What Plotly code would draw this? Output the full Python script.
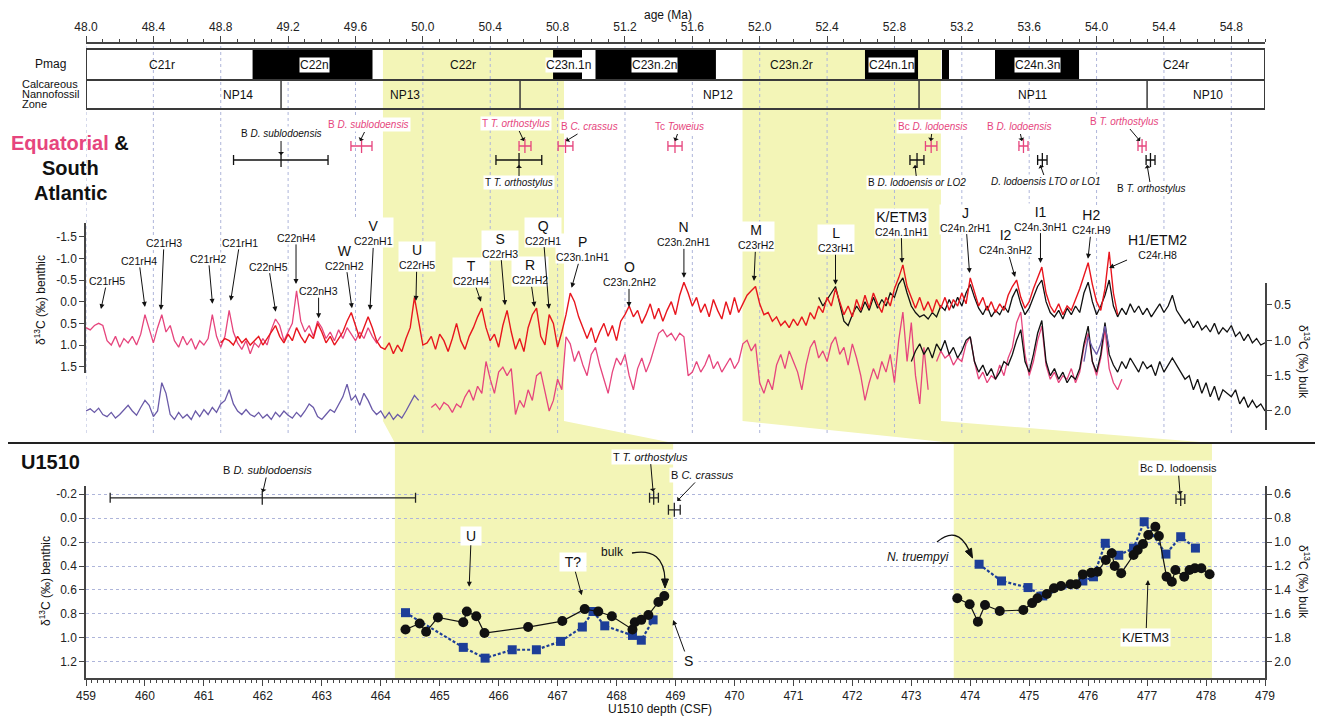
import plotly.graph_objects as go

# ---------------------------------------------------------------- canvas
# the page body has an 8 px default margin: the figure is sized/offset so that
# positions given below are positions in the 1323x721 window
PAGE_W, PAGE_H = 1323, 721
OFF = 8
FIG_W, FIG_H = PAGE_W - OFF, PAGE_H - OFF
PX_L, PX_R = 86, 1265

AGE_RANGE = [48.0, 55.0]
DEPTH_RANGE = [459.0, 479.0]

PINK = "#e6457d"
RED = "#e8161e"
PURPLE = "#6a5aa8"
BLUE = "#1d3e98"
YELLOW = "#f3f5b7"
GRID = "#aeb5da"
NARROW = "Liberation Sans Narrow, Arial Narrow, Liberation Sans, sans-serif"
SANS = "Liberation Sans, Arial, sans-serif"

# ---------------------------------------------------------------- data: top panel
AGE_MAJOR_TICKS = [48.0, 48.4, 48.8, 49.2, 49.6, 50.0, 50.4, 50.8, 51.2, 51.6,
                   52.0, 52.4, 52.8, 53.2, 53.6, 54.0, 54.4, 54.8]
BENTHIC_TICKS = [-1.5, -1.0, -0.5, 0.0, 0.5, 1.0, 1.5]
BULK_TICKS = [0.5, 1.0, 1.5, 2.0]

STEP = 0.025
# Equatorial benthic (pink), start 48.00 Ma
PINK_BEN_START = 48.0
PINK_BEN = [0.60, 0.65, 0.55, 0.50, 0.55, 0.90, 1.00, 0.80,
            1.05, 0.85, 0.95, 0.80, 1.00, 0.75, 0.30, 0.65,
            0.95, 0.60, 0.30, 0.70, 0.55, 0.90, 1.05, 0.80,
            1.00, 0.85, 1.10, 0.90, 1.00, 0.85, 0.30, 0.80,
            1.05, 0.80, 0.20, 0.70, 0.95, 1.10, 0.90, 1.20,
            0.95, 1.05, 0.85, 1.00, 0.65, 0.40, 0.55, 0.90,
            0.70, 0.50, -0.25, 0.45, 0.70, 0.55, 0.80, 0.45,
            0.60, 0.85, 0.70, 0.90, 0.65, 0.85, 0.60, 0.75,
            0.90, 0.70, 0.85, 0.60, 0.80, 0.95, 0.80]
# Benthic (red), start 48.80 Ma
RED_BEN_START = 48.8
RED_BEN = [0.95, 0.85, 0.90, 1.00, 0.80, 0.95, 0.85, 1.00,
           0.90, 0.80, 1.00, 0.85, 0.70, 0.55, 0.80, 0.95,
           0.75, 0.90, 0.60, 0.80, 0.95, 0.75, 0.85, 0.50,
           0.70, 0.95, 0.80, 1.00, 0.85, 0.70, 0.45, 0.25,
           0.55, 0.85, 0.60, 0.35, 0.60, 0.90, 1.05, 1.10,
           0.95, 1.20, 1.00, 1.15, 0.85, 0.60, -0.10, 0.50,
           1.00, 0.95, 0.80, 1.10, 0.75, 0.90, 1.15, 0.85,
           0.50, 0.90, 1.10, 0.80, 0.60, 0.35, 0.15, 0.60,
           0.90, 0.75, 1.05, 0.55, 0.20, 0.70, 1.10, 0.85,
           1.15, 0.60, 0.30, 0.15, 0.80, 1.00, 0.30, 0.50,
           1.05, 0.70, 0.30, -0.20, 0.00, 0.35, 0.60, 0.85,
           0.60, 0.95, 0.70, 0.50, 0.80, 0.55, 0.90, 0.45,
           0.30, 0.10, 0.35, 0.20, 0.50, 0.30, 0.05, 0.40,
           0.15, 0.45, 0.20, 0.00, 0.30, -0.15, -0.45, -0.20,
           0.10, -0.10, 0.25, 0.05, 0.35, -0.05, 0.20, 0.40,
           0.00, 0.30, -0.10, 0.25, 0.05, -0.15, -0.25, -0.35,
           0.05, 0.30, 0.25, 0.45, 0.35, 0.55, 0.45, 0.60,
           0.40, 0.55, 0.35, 0.55, 0.25, 0.40, 0.10, 0.25,
           -0.10, 0.10, -0.30, 0.00, 0.30, 0.10, 0.35, -0.05,
           0.20, -0.15, 0.15, -0.20, 0.05, 0.25, -0.10, 0.10,
           -0.30, -0.55, -0.85, -0.35, -0.10, 0.15, -0.10, 0.20,
           0.00, 0.25, -0.05, 0.15, -0.10, 0.20, -0.05, 0.10,
           -0.20, 0.05, -0.55, -0.20, 0.10, -0.10, 0.20, 0.00,
           0.25, 0.05, 0.20, -0.15, -0.35, -0.50, -0.10, 0.15,
           0.00, -0.30, -0.55, -0.80, -0.20, 0.10, 0.25, 0.05,
           0.30, 0.10, 0.20, -0.05, -0.30, -0.60, -0.90, -0.40,
           0.00, 0.20, -0.30, -1.15, -0.20, 0.30]
# South Atlantic benthic (black), start 52.35 Ma
BLACK_BEN_START = 52.35
BLACK_BEN = [-0.10, 0.10, -0.05, -0.20, -0.35, 0.05, 0.45, 0.55,
             0.30, 0.10, 0.25, 0.00, 0.20, -0.10, 0.15, -0.05,
             0.10, -0.20, -0.10, -0.40, -0.55, -0.20, 0.10, 0.25,
             0.35, 0.30, 0.40, 0.25, 0.35, 0.10, 0.20, -0.05,
             0.15, -0.10, 0.10, -0.20, -0.40, -0.10, 0.15, 0.30,
             0.10, 0.35, 0.20, 0.30, 0.10, 0.25, -0.10, -0.30,
             0.05, 0.30, 0.15, -0.10, -0.35, -0.50, 0.00, 0.25,
             0.35, 0.20, 0.40, 0.15, 0.30, 0.10, 0.25, -0.20,
             -0.45, 0.00, 0.30, 0.10, -0.15, -0.50, 0.10, 0.35,
             0.15, 0.30, 0.05, 0.25, 0.10, 0.30, 0.15, 0.35,
             0.20, 0.05, 0.25, 0.10, -0.15, 0.20, 0.35, 0.50,
             0.40, 0.60, 0.45, 0.65, 0.55, 0.70, 0.50, 0.75,
             0.60, 0.70, 0.55, 0.80, 0.70, 0.90, 0.75, 0.95,
             0.85, 1.00, 0.95]
# bulk records
PURPLE_BULK_START = 48.0
PURPLE_BULK = [2.00, 1.97, 2.02, 1.96, 2.05, 2.08, 2.02, 2.10,
               2.05, 1.98, 1.92, 2.00, 2.06, 1.95, 1.85, 1.92,
               2.08, 2.00, 1.60, 1.75, 2.05, 2.12, 2.02, 2.10,
               2.05, 2.12, 2.00, 2.08, 1.98, 2.05, 1.95, 2.02,
               1.90, 1.85, 1.70, 1.90, 2.00, 2.05, 1.98, 2.05,
               2.08, 2.02, 2.10, 2.05, 2.12, 2.02, 2.08, 2.00,
               2.06, 2.10, 2.02, 2.08, 2.00, 1.90, 1.95, 2.08,
               2.12, 2.05, 1.98, 2.02, 1.90, 1.80, 1.62, 1.85,
               1.78, 1.92, 1.75, 1.85, 1.98, 2.05, 2.00, 2.10,
               2.02, 2.12, 2.05, 2.10, 2.00, 1.88, 1.78, 1.85]
PURPLE_BULK2_START = 53.925
PURPLE_BULK2 = [1.30, 0.95, 1.10, 1.20, 1.05, 0.80, 1.10]
PINK_BULK_START = 50.05
PINK_BULK = [1.95, 1.90, 1.98, 1.88, 1.92, 2.02, 1.90, 1.95,
             1.80, 1.70, 1.85, 1.65, 1.75, 1.30, 1.55, 1.75,
             1.45, 1.38, 1.50, 1.40, 2.05, 1.85, 1.95, 1.70,
             1.85, 1.50, 1.45, 1.75, 2.00, 1.85, 1.55, 1.70,
             0.95, 1.05, 1.30, 1.15, 1.35, 1.50, 1.20, 1.10,
             1.35, 1.55, 1.75, 1.45, 1.25, 1.35, 1.20, 1.50,
             1.70, 1.40, 1.25, 1.45, 1.30, 1.10, 0.90, 0.85,
             0.95, 0.90, 1.00, 0.90, 0.95, 1.50, 1.45, 1.30,
             1.45, 1.35, 1.20, 1.40, 1.30, 1.45, 1.35, 1.25,
             1.40, 1.30, 1.05, 1.00, 1.15, 1.05, 1.60, 1.75,
             1.55, 1.70, 1.35, 1.20, 1.40, 1.15, 1.30, 1.45,
             1.70, 1.35, 1.10, 1.00, 1.25, 1.15, 1.30, 1.05,
             0.95, 1.20, 1.10, 1.35, 1.05, 1.25, 1.50, 1.85,
             1.60, 1.40, 1.55, 1.30, 1.45, 1.20, 1.60, 1.00,
             0.60, 1.30, 0.75, 1.50, 1.90, 1.10, 1.70]
PINK_BULK2_START = 53.05
PINK_BULK2 = [1.30, 1.15, 1.25, 1.20, 1.35, 1.25, 1.30, 1.05,
              0.95, 1.30, 1.55, 1.45, 1.60, 1.50, 1.55, 1.35,
              1.50, 1.25, 1.10, 0.75, 0.60, 1.20, 1.50, 1.30,
              1.00, 0.80, 1.35, 1.55, 1.45, 1.60, 1.50, 1.55,
              1.40, 1.60, 1.45, 1.10, 0.90, 1.30, 1.50, 1.25,
              0.85, 1.40, 1.60, 1.70, 1.55]
BLACK_BULK_START = 52.9
BLACK_BULK = [1.30, 1.15, 1.05, 1.20, 1.10, 1.25, 1.05, 1.15,
              1.00, 1.20, 1.10, 1.25, 1.15, 1.00, 0.95, 1.30,
              1.45, 1.35, 1.50, 1.40, 1.55, 1.45, 1.30, 1.35,
              1.20, 1.00, 0.85, 1.30, 1.45, 1.20, 0.90, 0.72,
              1.30, 1.50, 1.40, 1.55, 1.45, 1.60, 1.50, 1.55,
              1.40, 1.05, 0.80, 1.30, 1.45, 1.20, 0.75, 1.20,
              1.35, 1.45, 1.30, 1.40, 1.25, 1.35, 1.45, 1.30,
              1.40, 1.35, 1.50, 1.30, 1.45, 1.35, 1.25, 1.35,
              1.45, 1.55, 1.50, 1.70, 1.55, 1.75, 1.60, 1.80,
              1.65, 1.85, 1.70, 1.75, 1.80, 1.70, 1.90, 1.80,
              1.95, 1.85, 1.95, 1.90, 2.00]

# magnetostratigraphy / nannofossil zones (Ma)
PMAG_NORMAL = [(48.989, 49.701), (50.773, 50.945), (51.025, 51.740),
               (52.625, 52.940), (53.082, 53.124), (53.397, 53.896)]
PMAG_NAMES = ["C21r", "C22n", "C22r", "C23n.1n", "C23n.2n", "C23n.2r", "C24n.1n", "C24n.3n", "C24r"]
PMAG_NAME_AGES = [48.45, 49.354, 50.238, 50.862, 51.378, 52.186, 52.785, 53.652, 54.47]
PMAG_NAME_BOXED = [False, True, False, True, True, False, True, True, False]
NANNO_BOUNDS = [49.158, 50.577, 52.946, 54.300]
NANNO_NAMES = ["NP14", "NP13", "NP12", "NP11", "NP10"]
NANNO_NAME_AGES = [48.90, 49.896, 51.755, 53.617, 54.659]

HIGHLIGHT_AGES = [(49.763, 50.838), (51.898, 53.076)]
HIGHLIGHT_DEPTHS = [(464.24, 468.96), (473.72, 478.10)]

# biostratigraphic events (age ranges, Ma)
EQ_EVENTS = ["B <i>D. sublodoensis</i>", "T <i>T. orthostylus</i>", "B <i>C. crassus</i>",
             "Tc <i>Toweius</i>", "Bc <i>D. lodoensis</i>", "B <i>D. lodoensis</i>", "B <i>T. orthostylus</i>"]
EQ_LO = [49.573, 50.571, 50.803, 51.455, 52.984, 53.539, 54.246]
EQ_HI = [49.698, 50.642, 50.891, 51.539, 53.052, 53.593, 54.294]
EQ_MID = [49.636, 50.606, 50.847, 51.497, 53.018, 53.566, 54.270]
SA_EVENTS = ["B <i>D. sublodoensis</i>", "T <i>T. orthostylus</i>", "B <i>D. lodoensis or LO2</i>",
             "<i>D. lodoensis LTO or LO1</i>", "B <i>T. orthostylus</i>"]
SA_LO = [48.876, 50.434, 52.892, 53.650, 54.294]
SA_HI = [49.437, 50.706, 52.975, 53.706, 54.347]
SA_MID = [49.158, 50.571, 52.934, 53.678, 54.320]

# named carbon-isotope events (peak age, benthic value at arrow tip)
PEAK_LETTERS = ["", "", "", "", "", "", "", "", "W", "V", "U", "T", "S", "R", "Q", "P", "O",
                "N", "M", "L", "K/ETM3", "J", "I2", "I1", "H2", "H1/ETM2"]
PEAK_CODES = ["C21rH5", "C21rH4", "C21rH3", "C21rH2", "C21rH1", "C22nH5", "C22nH4", "C22nH3",
              "C22nH2", "C22nH1", "C22rH5", "C22rH4", "C22rH3", "C22rH2", "C22rH1", "C23n.1nH1",
              "C23n.2nH2", "C23n.2nH1", "C23rH2", "C23rH1", "C24n.1nH1", "C24n.2rH1", "C24n.3nH2",
              "C24n.3nH1", "C24r.H9", "C24r.H8"]
PEAK_AGES = [48.089, 48.350, 48.445, 48.751, 48.859, 49.126, 49.247, 49.381, 49.579, 49.686,
             49.959, 50.345, 50.488, 50.663, 50.749, 50.883, 51.224, 51.550, 51.966, 52.450,
             52.845, 53.246, 53.516, 53.667, 53.949, 54.074]
PEAK_VALUES = [0.17, 0.12, 0.19, 0.05, -0.02, 0.23, -0.41, 0.38, 0.15, 0.19,
               -0.02, 0.00, 0.08, 0.12, 0.17, -0.32, 0.12, -0.55, -0.48, -0.39,
               -0.89, -0.66, -0.57, -0.89, -0.99, -0.78]

# ---------------------------------------------------------------- data: U1510 panel
DEPTH_TICKS = list(range(459, 480))
U_BEN_TICKS = [-0.2, 0.0, 0.2, 0.4, 0.6, 0.8, 1.0, 1.2]
U_BULK_TICKS = [0.6, 0.8, 1.0, 1.2, 1.4, 1.6, 1.8, 2.0]

BEN_DEPTH_1 = [464.42, 465.40, 465.77, 466.23, 466.64, 467.05, 467.42, 467.60, 467.80, 468.27, 468.42, 468.62]
BEN_VAL_1 = [0.79, 1.08, 1.17, 1.10, 1.10, 1.03, 0.91, 0.78, 0.90, 0.98, 1.02, 0.85]
BEN_DEPTH_2 = [474.15, 474.53, 474.98, 475.23, 475.91, 476.09, 476.29, 476.52, 476.77, 476.95, 477.32, 477.57, 477.82]
BEN_VAL_2 = [0.385, 0.525, 0.58, 0.65, 0.525, 0.49, 0.21, 0.31, 0.25, 0.03, 0.30, 0.155, 0.25]

BULK_DEPTH_1 = [464.42, 464.66, 464.77, 464.97, 465.40, 465.46, 465.62, 465.76, 466.50, 467.08,
                467.46, 467.69, 467.92, 468.27, 468.31, 468.42, 468.54, 468.71, 468.81]
BULK_VAL_1 = [1.73, 1.68, 1.75, 1.63, 1.67, 1.58, 1.62, 1.76, 1.71, 1.66,
              1.56, 1.58, 1.62, 1.73, 1.67, 1.65, 1.61, 1.50, 1.45]
BULK_DEPTH_2 = [473.78, 473.99, 474.13, 474.25, 474.50, 474.90, 475.05, 475.14, 475.30, 475.42,
                475.54, 475.70, 475.80, 475.91, 476.05, 476.16, 476.30, 476.40, 476.45, 476.56,
                476.77, 476.84, 476.93, 477.02, 477.14, 477.20, 477.33, 477.42, 477.48, 477.63,
                477.72, 477.81, 477.92, 478.06]
BULK_VAL_2 = [1.47, 1.52, 1.665, 1.526, 1.576, 1.568, 1.51, 1.47, 1.434, 1.386,
              1.367, 1.353, 1.353, 1.27, 1.256, 1.247, 1.15, 1.093, 1.20, 1.26,
              1.108, 1.066, 1.016, 0.94, 0.871, 0.949, 1.289, 1.331, 1.233, 1.289,
              1.233, 1.219, 1.219, 1.269]

U_EVENTS = ["B <i>D. sublodoensis</i>", "T <i>T. orthostylus</i>", "B <i>C. crassus</i>", "Bc D. lodoensis"]
U_LO = [459.41, 468.56, 468.88, 477.49]
U_HI = [464.59, 468.71, 469.08, 477.64]
U_MID = [461.99, 468.63, 468.98, 477.57]

# ---------------------------------------------------------------- layout helpers
EQ_ROW, SA_ROW = 146, 160          # rows on the hidden event axis (pixel-like units)
U_ROWS = [-0.17, -0.17, -0.07, -0.16]
BEN_ZERO_PX, BEN_PX_PER_UNIT = 301.7, 43.33   # top benthic axis scale (for label stacking order)


def ages(start, vals):
    return [round(start + i * STEP, 4) for i in range(len(vals))]


def a2p(a):
    return PX_L + (a - AGE_RANGE[0]) / (AGE_RANGE[1] - AGE_RANGE[0]) * (PX_R - PX_L)


def d2p(d):
    return PX_L + (d - DEPTH_RANGE[0]) / (DEPTH_RANGE[1] - DEPTH_RANGE[0]) * (PX_R - PX_L)


def fx(p):
    return (p - OFF) / FIG_W


def fy(p):
    return 1 - (p - OFF) / FIG_H


def pt(xp, yp):
    return f"{fx(xp):.5f},{fy(yp):.5f}"


fig = go.Figure()


def line(x, y, color, xa, ya, width=1.3):
    fig.add_trace(go.Scatter(x=x, y=y, mode="lines", xaxis=xa, yaxis=ya,
                             line=dict(color=color, width=width),
                             showlegend=False, hoverinfo="skip"))


# top panel curves
line(ages(PURPLE_BULK_START, PURPLE_BULK), PURPLE_BULK, PURPLE, "x", "y2")
line(ages(PINK_BULK_START, PINK_BULK), PINK_BULK, PINK, "x", "y2")
line(ages(PINK_BULK2_START, PINK_BULK2), PINK_BULK2, PINK, "x", "y2")
line(ages(BLACK_BULK_START, BLACK_BULK), BLACK_BULK, "#111111", "x", "y2")
line(ages(PURPLE_BULK2_START, PURPLE_BULK2), PURPLE_BULK2, PURPLE, "x", "y2")
line(ages(PINK_BEN_START, PINK_BEN), PINK_BEN, PINK, "x", "y")
line(ages(BLACK_BEN_START, BLACK_BEN), BLACK_BEN, "#111111", "x", "y")
line(ages(RED_BEN_START, RED_BEN), RED_BEN, RED, "x", "y", 1.4)


def events(mid, lo, hi, rows, color, xa, ya):
    fig.add_trace(go.Scatter(
        x=mid, y=rows, mode="markers", xaxis=xa, yaxis=ya,
        marker=dict(symbol="line-ns", size=10, color=color, line=dict(width=1.3, color=color)),
        error_x=dict(type="data", symmetric=False,
                     array=[h - m for h, m in zip(hi, mid)],
                     arrayminus=[m - l for m, l in zip(mid, lo)],
                     color=color, thickness=1.3, width=5),
        showlegend=False, hoverinfo="skip"))


events(EQ_MID, EQ_LO, EQ_HI, [EQ_ROW] * len(EQ_MID), PINK, "x", "y5")
events(SA_MID, SA_LO, SA_HI, [SA_ROW] * len(SA_MID), "#111111", "x", "y5")
events(U_MID, U_LO, U_HI, U_ROWS, "#222222", "x2", "y3")

# U1510 curves
fig.add_trace(go.Scatter(x=BEN_DEPTH_1 + [None] + BEN_DEPTH_2, y=BEN_VAL_1 + [None] + BEN_VAL_2,
                         mode="lines+markers", xaxis="x2", yaxis="y3",
                         line=dict(color=BLUE, width=2.2, dash="3px,2px"),
                         marker=dict(symbol="square", size=9, color=BLUE),
                         showlegend=False, hoverinfo="skip"))
fig.add_trace(go.Scatter(x=BULK_DEPTH_1 + [None] + BULK_DEPTH_2, y=BULK_VAL_1 + [None] + BULK_VAL_2,
                         mode="lines+markers", xaxis="x2", yaxis="y4",
                         line=dict(color="#111111", width=1.2),
                         marker=dict(symbol="circle", size=10, color="#111111"),
                         showlegend=False, hoverinfo="skip"))

# ---------------------------------------------------------------- shapes
shapes = []
for (a0, a1), (d0, d1) in zip(HIGHLIGHT_AGES, HIGHLIGHT_DEPTHS):
    path = ("M " + pt(a2p(a0), 49) + " L " + pt(a2p(a1), 49) + " L " + pt(a2p(a1), 421) +
            " L " + pt(d2p(d1), 443) + " L " + pt(d2p(d1), 678) + " L " + pt(d2p(d0), 678) +
            " L " + pt(d2p(d0), 443) + " L " + pt(a2p(a0), 421) + " Z")
    shapes.append(dict(type="path", xref="paper", yref="paper", path=path,
                       fillcolor=YELLOW, line=dict(width=0), layer="below"))
for a in AGE_MAJOR_TICKS:
    shapes.append(dict(type="line", xref="x", yref="paper", x0=a, x1=a, y0=fy(433), y1=fy(44),
                       line=dict(color=GRID, width=1, dash="dot"), layer="below"))
for a0, a1 in PMAG_NORMAL:
    shapes.append(dict(type="rect", xref="x", yref="paper", x0=a0, x1=a1, y0=fy(80), y1=fy(49),
                       fillcolor="black", line=dict(width=0), layer="below"))
for y0, y1 in [(49, 80), (80, 109)]:
    shapes.append(dict(type="rect", xref="x", yref="paper", x0=AGE_RANGE[0], x1=AGE_RANGE[1],
                       y0=fy(y1), y1=fy(y0), line=dict(color="#3a3a3a", width=2), layer="below"))
for a in NANNO_BOUNDS:
    shapes.append(dict(type="line", xref="x", yref="paper", x0=a, x1=a, y0=fy(109), y1=fy(80),
                       line=dict(color="#3a3a3a", width=1.5), layer="below"))
shapes.append(dict(type="line", xref="paper", yref="paper", x0=fx(0), x1=fx(PAGE_W), y0=fy(443), y1=fy(443),
                   line=dict(color="#222222", width=2)))
# curved arrows with heads
shapes.append(dict(type="path", xref="paper", yref="paper",
                   path="M " + pt(632, 553) + " Q " + pt(664, 547) + " " + pt(665, 580),
                   line=dict(color="#111", width=1.3)))
shapes.append(dict(type="path", xref="paper", yref="paper",
                   path="M " + pt(661.5, 579) + " L " + pt(668.5, 579) + " L " + pt(665, 588) + " Z",
                   fillcolor="#111", line=dict(color="#111", width=1)))
shapes.append(dict(type="path", xref="paper", yref="paper",
                   path="M " + pt(937, 542) + " Q " + pt(957, 525) + " " + pt(969, 550),
                   line=dict(color="#111", width=1.3)))
shapes.append(dict(type="path", xref="paper", yref="paper",
                   path="M " + pt(965.3, 551.4) + " L " + pt(971.5, 548.2) + " L " + pt(972.5, 558) + " Z",
                   fillcolor="#111", line=dict(color="#111", width=1)))

# ---------------------------------------------------------------- annotations
ann = []


def text(x, y, t, size=12, family=SANS, color="#111", xref="paper", yref="paper",
         xanchor="center", bg=None, angle=0):
    d = dict(x=x, y=y, xref=xref, yref=yref, text=t, showarrow=False, xanchor=xanchor,
             yanchor="middle", textangle=angle, font=dict(size=size, family=family, color=color))
    if bg:
        d.update(bgcolor=bg, borderpad=0)
    ann.append(d)


def arrow(x, y, t, ax, ay, xref, yref, size=11, family=NARROW, color="#111", bg="white", head=2, pad=1):
    ann.append(dict(x=x, y=y, xref=xref, yref=yref, text=t, showarrow=True, ax=ax, ay=ay,
                    arrowhead=head, arrowsize=1, arrowwidth=1, arrowcolor="#111", standoff=0,
                    font=dict(size=size, family=family, color=color),
                    bgcolor=bg, borderpad=pad))


text(fx(668), fy(15), "age (Ma)", 12)
text(fx(660), fy(709), "U1510 depth (CSF)", 12)
text(fx(50), fy(64), "Pmag", 12, NARROW)
text(fx(20), fy(84), "Calcareous", 11, NARROW, xanchor="left")
text(fx(20), fy(94), "Nannofossil", 11, NARROW, xanchor="left")
text(fx(20), fy(104), "Zone", 11, NARROW, xanchor="left")
for name, a, boxed in zip(PMAG_NAMES, PMAG_NAME_AGES, PMAG_NAME_BOXED):
    text(a, fy(65), name, 12, NARROW, xref="x", bg="white" if boxed else None)
for name, a in zip(NANNO_NAMES, NANNO_NAME_AGES):
    text(a, fy(95), name, 12, NARROW, xref="x")

text(fx(70), fy(143), f"<b><span style='color:{PINK}'>Equatorial</span> &amp;</b>", 20, NARROW)
text(fx(70), fy(168), "<b>South</b>", 20, NARROW)
text(fx(70), fy(193), "<b>Atlantic</b>", 20, NARROW)
text(fx(50), fy(462), "<b>U1510</b>", 20, NARROW)

text(fx(40), fy(300), "δ<sup>13</sup>C (‰) benthic", 12, SANS, angle=-90)
text(fx(1304), fy(362), "δ<sup>13</sup>C (‰) bulk", 12, SANS, angle=90)
text(fx(45), fy(581), "δ<sup>13</sup>C (‰) benthic", 12, SANS, angle=-90)
text(fx(1304), fy(582), "δ<sup>13</sup>C (‰) bulk", 12, SANS, angle=90)

# isotope event labels: lower labels drawn first so that higher ones sit on top
PEAK_OFFSETS = [(6, -28), (-6, -46), (3, -67), (-4, -45), (9, -58), (-7, -45), (0, -46), (0, -27),
                (-7, -51), (4, -77), (1, -44), (-10, -29), (-5, -60), (-5, -35), (-6, -77), (11, -39),
                (0, -33), (0, -44), (2, -44), (0, -45), (-1, -40), (-4, -54), (-10, -35), (0, -45),
                (4, -37), (48, -21)]
peak_rows = list(zip(PEAK_LETTERS, PEAK_CODES, PEAK_AGES, PEAK_VALUES, PEAK_OFFSETS))
peak_rows.sort(key=lambda r: -(BEN_ZERO_PX + r[3] * BEN_PX_PER_UNIT + r[4][1]))
for letter, code, a, v, (ox, oy) in peak_rows:
    t = (f"<span style='font-size:14px'>{letter}</span><br>{code}" if letter else code)
    arrow(a, v, t, ox, oy, "x", "y", 10.5, pad=0)

# biostrat labels, top
EQ_TIPS = [49.627, 50.600, 50.850, 51.497, 53.015, 53.557, 54.258]
EQ_OFFS = [(8, -16), (-8, -17), (23, -14), (5, -14), (2, -14), (-3, -14), (-16, -19)]
for t, a, (ox, oy) in zip(EQ_EVENTS, EQ_TIPS, EQ_OFFS):
    arrow(a, EQ_ROW - 5, t, ox, oy, "x", "y5", 10, NARROW, PINK, head=1)
SA_TIPS = [49.158, 50.571, 52.922, 53.666, 54.300]
SA_OFFS = [(0, -21), (0, 18), (2, 18), (6, 17), (4, 24)]
SA_TIP_DY = [-5, 5, 5, 5, 5]
for t, a, (ox, oy), dy in zip(SA_EVENTS, SA_TIPS, SA_OFFS, SA_TIP_DY):
    arrow(a, SA_ROW + dy, t, ox, oy, "x", "y5", 10, NARROW, "#111", head=1)

# biostrat labels, U1510
U_TIPS = [(462.00, -0.219), (468.62, -0.222), (469.03, -0.144), (477.56, -0.20)]
U_OFFS = [(5, -22), (-3, -35), (25, -26), (-2, -26)]
for t, (d, v), (ox, oy) in zip(U_EVENTS, U_TIPS, U_OFFS):
    arrow(d, v, t, ox, oy, "x2", "y3", 11, NARROW, "#111", head=1)

# U1510 event labels
arrow(465.50, 0.573, "<span style='font-size:14px'> U </span>", 2, -51, "x2", "y3", 11)
arrow(467.41, 0.644, "<span style='font-size:14px'> T? </span>", -9, -33, "x2", "y3", 11)
arrow(468.96, 0.851, "<span style='font-size:14px'> S </span>", 15, 41, "x2", "y3", 11)
arrow(477.015, 0.517, "<span style='font-size:13px'>K/ETM3</span>", -2, 57, "x2", "y3", 11)
text(fx(612), fy(552), "bulk", 12, NARROW)
text(fx(918), fy(557), "<i>N. truempyi</i>", 12, NARROW)

# ---------------------------------------------------------------- axes
dom_x = [fx(PX_L), fx(PX_R)]
axis_common = dict(showline=True, linecolor="#444", linewidth=1.5, ticks="outside",
                   tickcolor="#444", zeroline=False, showgrid=False, automargin=False,
                   tickfont=dict(size=12, family=SANS, color="#222"))


def fmt(v):
    return f"{v:.1f}"


fig.update_layout(
    template="none",
    width=FIG_W, height=FIG_H, margin=dict(l=0, r=0, t=0, b=0, pad=0, autoexpand=False),
    paper_bgcolor="white", plot_bgcolor="rgba(0,0,0,0)",
    font=dict(family=SANS, color="#111"),
    showlegend=False, shapes=shapes, annotations=ann,
    xaxis=dict(domain=dom_x, range=AGE_RANGE, anchor="free", position=fy(43), side="top",
               tickmode="array", tickvals=AGE_MAJOR_TICKS, ticktext=[fmt(v) for v in AGE_MAJOR_TICKS],
               ticklen=6, minor=dict(ticks="outside", ticklen=3, dtick=0.1, tick0=48.0, tickcolor="#444"),
               **axis_common),
    yaxis=dict(domain=[fy(372.7), fy(223)], range=[1.639, -1.816], anchor="x",
               tickmode="array", tickvals=BENTHIC_TICKS, ticktext=[fmt(v) for v in BENTHIC_TICKS],
               ticklen=5, **axis_common),
    yaxis2=dict(domain=[fy(430), fy(283)], range=[2.269, 0.189], anchor="x", side="right",
                tickmode="array", tickvals=BULK_TICKS, ticktext=[fmt(v) for v in BULK_TICKS],
                ticklen=5, **axis_common),
    yaxis5=dict(domain=[fy(222), fy(110)], range=[222, 110], anchor="x", visible=False),
    xaxis2=dict(domain=dom_x, range=DEPTH_RANGE, anchor="y3", side="bottom",
                tickmode="array", tickvals=DEPTH_TICKS, ticktext=[str(v) for v in DEPTH_TICKS],
                ticklen=6, minor=dict(ticks="outside", ticklen=3, dtick=0.1, tick0=459, tickcolor="#444"),
                **axis_common),
    yaxis3=dict(domain=[fy(678), fy(486)], range=[1.336, -0.269], anchor="x2",
                tickmode="array", tickvals=U_BEN_TICKS, ticktext=[fmt(v) for v in U_BEN_TICKS],
                ticklen=5, **{k: v for k, v in axis_common.items() if k != "showgrid"},
                showgrid=True, gridcolor=GRID, griddash="dot", gridwidth=1),
    yaxis4=dict(overlaying="y3", range=[2.136, 0.531], anchor="x2", side="right",
                tickmode="array", tickvals=U_BULK_TICKS, ticktext=[fmt(v) for v in U_BULK_TICKS],
                ticklen=5, **axis_common),
)

fig.write_html("out.html")
